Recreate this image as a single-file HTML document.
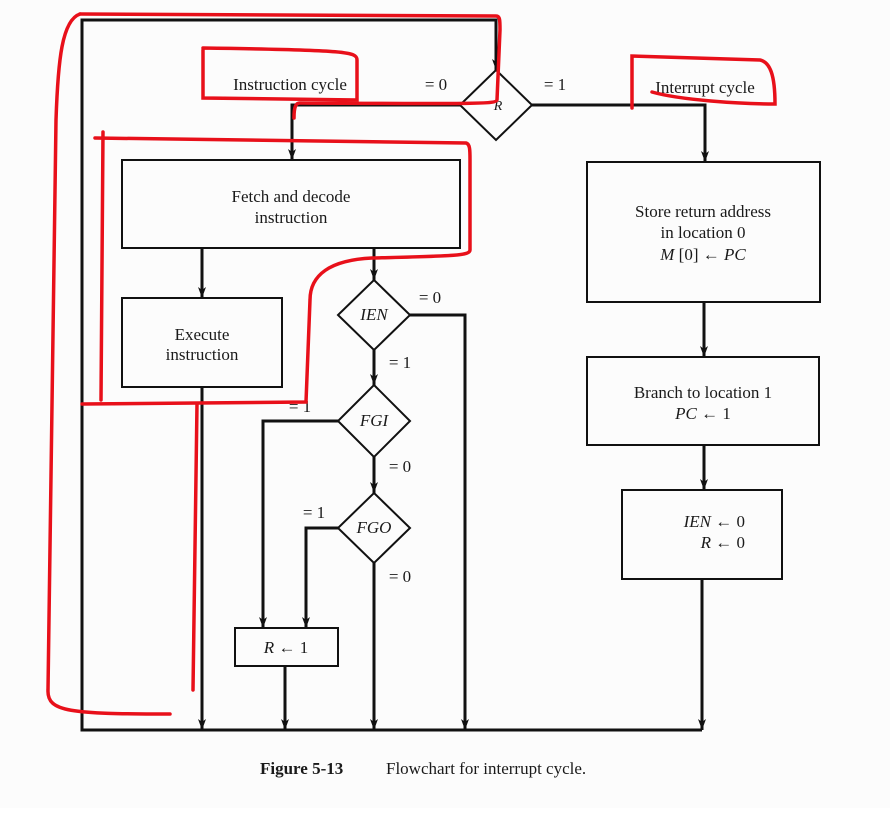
<!DOCTYPE html>
<html><head><meta charset="utf-8"><style>
html,body{margin:0;padding:0;background:#fff;}
svg text{font-family:"Liberation Serif",serif;fill:#1a1a1a;}
</style></head><body>
<svg width="890" height="808" viewBox="0 0 890 808" xmlns="http://www.w3.org/2000/svg">
<defs>
<marker id="a" markerWidth="12" markerHeight="8" refX="11" refY="4" orient="auto" markerUnits="userSpaceOnUse">
<path d="M0,0 L11,4 L0,8 L3,4 Z" fill="#111"/>
</marker>
</defs>
<rect width="890" height="808" fill="#fcfcfc"/>
<g stroke="#111" stroke-width="3" fill="none">
<path d="M496,730 L82,730 L82,20 L496,20 L496,70" marker-end="url(#a)"/>
<path d="M702,730 L82,730"/>
<path d="M496,70 L532,105 L496,140 L460,105 Z" stroke-width="2"/>
<path d="M460,105 L292,105 L292,160" marker-end="url(#a)"/>
<path d="M532,105 L705,105 L705,162" marker-end="url(#a)"/>
<rect x="122" y="160" width="338" height="88" stroke-width="2"/>
<rect x="587" y="162" width="233" height="140" stroke-width="2"/>
<rect x="122" y="298" width="160" height="89" stroke-width="2"/>
<rect x="587" y="357" width="232" height="88" stroke-width="2"/>
<rect x="622" y="490" width="160" height="89" stroke-width="2"/>
<rect x="235" y="628" width="103" height="38" stroke-width="2"/>
<path d="M374,280 L410,315 L374,350 L338,315 Z" stroke-width="2"/>
<path d="M374,385 L410,421 L374,457 L338,421 Z" stroke-width="2"/>
<path d="M374,493 L410,528 L374,563 L338,528 Z" stroke-width="2"/>
<path d="M202,248 L202,298" marker-end="url(#a)"/>
<path d="M374,248 L374,280" marker-end="url(#a)"/>
<path d="M374,350 L374,385" marker-end="url(#a)"/>
<path d="M374,457 L374,493" marker-end="url(#a)"/>
<path d="M374,563 L374,730" marker-end="url(#a)"/>
<path d="M410,315 L465,315 L465,730" marker-end="url(#a)"/>
<path d="M338,421 L263,421 L263,628" marker-end="url(#a)"/>
<path d="M338,528 L306,528 L306,628" marker-end="url(#a)"/>
<path d="M285,666 L285,730" marker-end="url(#a)"/>
<path d="M202,387 L202,730" marker-end="url(#a)"/>
<path d="M704,302 L704,357" marker-end="url(#a)"/>
<path d="M704,445 L704,490" marker-end="url(#a)"/>
<path d="M702,579 L702,730" marker-end="url(#a)"/>
</g>
<g font-size="17" text-anchor="middle">
<text x="290" y="90">Instruction cycle</text>
<text x="705" y="93">Interrupt cycle</text>
<text x="436" y="90">= 0</text>
<text x="555" y="90">= 1</text>
<text x="498" y="110" font-style="italic" font-size="14">R</text>
<text x="291" y="202">Fetch and decode</text>
<text x="291" y="223">instruction</text>
<text x="703" y="217">Store return address</text>
<text x="703" y="238">in location 0</text>
<text x="703" y="260" font-style="italic">M <tspan font-style="normal">[0] ←</tspan> PC</text>
<text x="202" y="340">Execute</text>
<text x="202" y="360">instruction</text>
<text x="703" y="398">Branch to location 1</text>
<text x="703" y="419"><tspan font-style="italic">PC</tspan> ← 1</text>
<text x="374" y="320" font-style="italic">IEN</text>
<text x="374" y="426" font-style="italic">FGI</text>
<text x="374" y="533" font-style="italic">FGO</text>
<text x="430" y="303">= 0</text>
<text x="400" y="368">= 1</text>
<text x="300" y="412">= 1</text>
<text x="400" y="472">= 0</text>
<text x="314" y="518">= 1</text>
<text x="400" y="582">= 0</text>
<text x="286" y="653"><tspan font-style="italic">R</tspan> ← 1</text>
<text x="745" y="527" text-anchor="end"><tspan font-style="italic">IEN</tspan> ← 0</text>
<text x="745" y="548" text-anchor="end"><tspan font-style="italic">R</tspan> ← 0</text>
</g>
<text x="260" y="774" font-size="17" font-weight="bold">Figure 5-13</text>
<text x="386" y="774" font-size="17">Flowchart for interrupt cycle.</text>
<g stroke="#e8101a" stroke-width="3.5" fill="none" stroke-linecap="round">
<path d="M80,14 C62,20 58,60 56,120 L48,690 C47,712 70,714 170,714"/>
<path d="M80,14 L496,16 C500,16 500,20 500,30 L497,100 C496,104 480,104 300,103 C296,103 294,106 294,118"/>
<path d="M203,50 L203,98 L357,100 L357,60 C357,52 350,50 203,48"/>
<path d="M95,138 L466,143 C470,144 470,150 470,160 L470,250 C470,256 450,256 372,258 C330,260 310,275 310,300 L306,402 L82,404"/>
<path d="M103,132 L101,400"/>
<path d="M197,404 L193,690"/>
<path d="M632,108 L632,56 L760,60 C770,62 775,75 775,104 C740,104 680,100 652,92"/>
</g>
</svg>
</body></html>
